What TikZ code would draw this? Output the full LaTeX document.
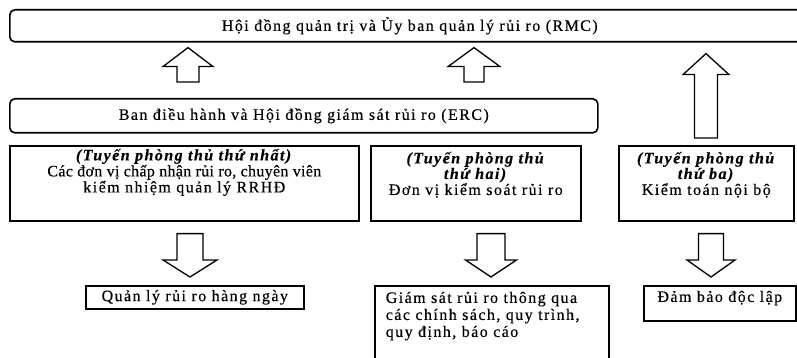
\documentclass[tikz,border=0pt]{standalone}
\usepackage{fontspec}
\setmainfont{Liberation Serif}[LetterSpace=9, FakeBold=0.4]
\usetikzlibrary{calc}

\tikzset{
  panel/.style={draw, line width=1.6pt, rounded corners=5pt, inner sep=0pt, anchor=north west},
  cell/.style={draw, line width=1.6pt, inner sep=0pt, anchor=north west},
  fat/.style={draw, line width=1.3pt, fill=white}
}

% fixed size box, text from the top: width, height, line skip, top space, text
\newcommand{\topbox}[5]{\parbox[c][#2pt][t]{#1pt}{\fontsize{16}{#3}\selectfont\vspace*{#4pt}#5\par}}

% block arrow: tip, tail, head length, half head width, half shaft width
\newcommand{\fatarrow}[5]{%
  \draw[fat] let \p1=(#1), \p2=(#2), \n1={\y2>\y1 ? 1 : -1} in
    (\x1,\y1) -- ({\x1+#4pt},{\y1+\n1*#3pt}) -- ({\x1+#5pt},{\y1+\n1*#3pt})
    -- ({\x1+#5pt},\y2) -- ({\x1-#5pt},\y2) -- ({\x1-#5pt},{\y1+\n1*#3pt})
    -- ({\x1-#4pt},{\y1+\n1*#3pt}) -- cycle;}

\begin{document}
\begin{tikzpicture}[x=1pt, y=-1pt, font=\fontsize{16}{17}\selectfont]
  \useasboundingbox (0,0) rectangle (797,358);

  % upper level
  \node[panel, minimum width=800pt, minimum height=32pt] (rmc) at (9,9)
    {Hội đồng quản trị và Ủy ban quản lý rủi ro (RMC)};
  \node[panel, minimum width=588pt, minimum height=34pt] (erc) at (9,98)
    {Ban điều hành và Hội đồng giám sát rủi ro (ERC)};

  % three lines of defence
  \node[cell] (first) at (9,145) {\topbox{349}{75}{16}{3}{\centering
    \textbf{\textit{(Tuyến phòng thủ thứ nhất)}}\\
    {\addfontfeature{LetterSpace=2}Các đơn vị chấp nhận rủi ro, chuyên viên}\\
    kiểm nhiệm quản lý RRHĐ}};
  \node[cell] (second) at (370,145) {\topbox{210}{75}{14.5}{6}{\centering
    \textbf{\textit{(Tuyến phòng thủ}}\\
    \textbf{\textit{thứ hai)}}\\
    Đơn vị kiểm soát rủi ro}};
  \node[cell] (third) at (618,145) {\topbox{175}{75}{14.5}{6}{\centering
    \textbf{\textit{(Tuyến phòng thủ}}\\
    \textbf{\textit{thứ ba)}}\\
    Kiểm toán nội bộ}};

  % tasks
  \node[cell, minimum width=218pt, minimum height=23pt] (daily) at (85,285)
    {Quản lý rủi ro hàng ngày};
  \node[cell] (policy) at (374,285) {\topbox{234}{90}{17}{6}{\raggedright\leftskip=11pt
    Giám sát rủi ro thông qua\\
    các chính sách, quy trình,\\
    quy định, báo cáo}};
  \node[cell] (indep) at (643,285) {\topbox{152}{35}{16}{5}{\centering
    Đảm bảo độc lập}};

  % arrows
  \fatarrow{$(188,0 |- rmc.south)+(0,5)$}{$(188,0 |- erc.north)+(0,-16)$}{19}{25}{11}
  \fatarrow{$(474,0 |- rmc.south)+(0,5)$}{$(474,0 |- erc.north)+(0,-16)$}{19}{26}{10}
  \fatarrow{$(706,0 |- rmc.south)+(0,11)$}{$(706,0 |- third.north)+(0,-7)$}{21}{23}{11.5}
  \fatarrow{$(190,0 |- daily.north)+(0,-8)$}{$(190,0 |- first.south)+(0,12)$}{17}{27}{13}
  \fatarrow{$(491,0 |- policy.north)+(0,-8)$}{$(491,0 |- second.south)+(0,12)$}{17}{25.5}{14}
  \fatarrow{$(711,0 |- indep.north)+(0,-8)$}{$(711,0 |- third.south)+(0,12)$}{17}{24}{12.5}
\end{tikzpicture}
\end{document}
